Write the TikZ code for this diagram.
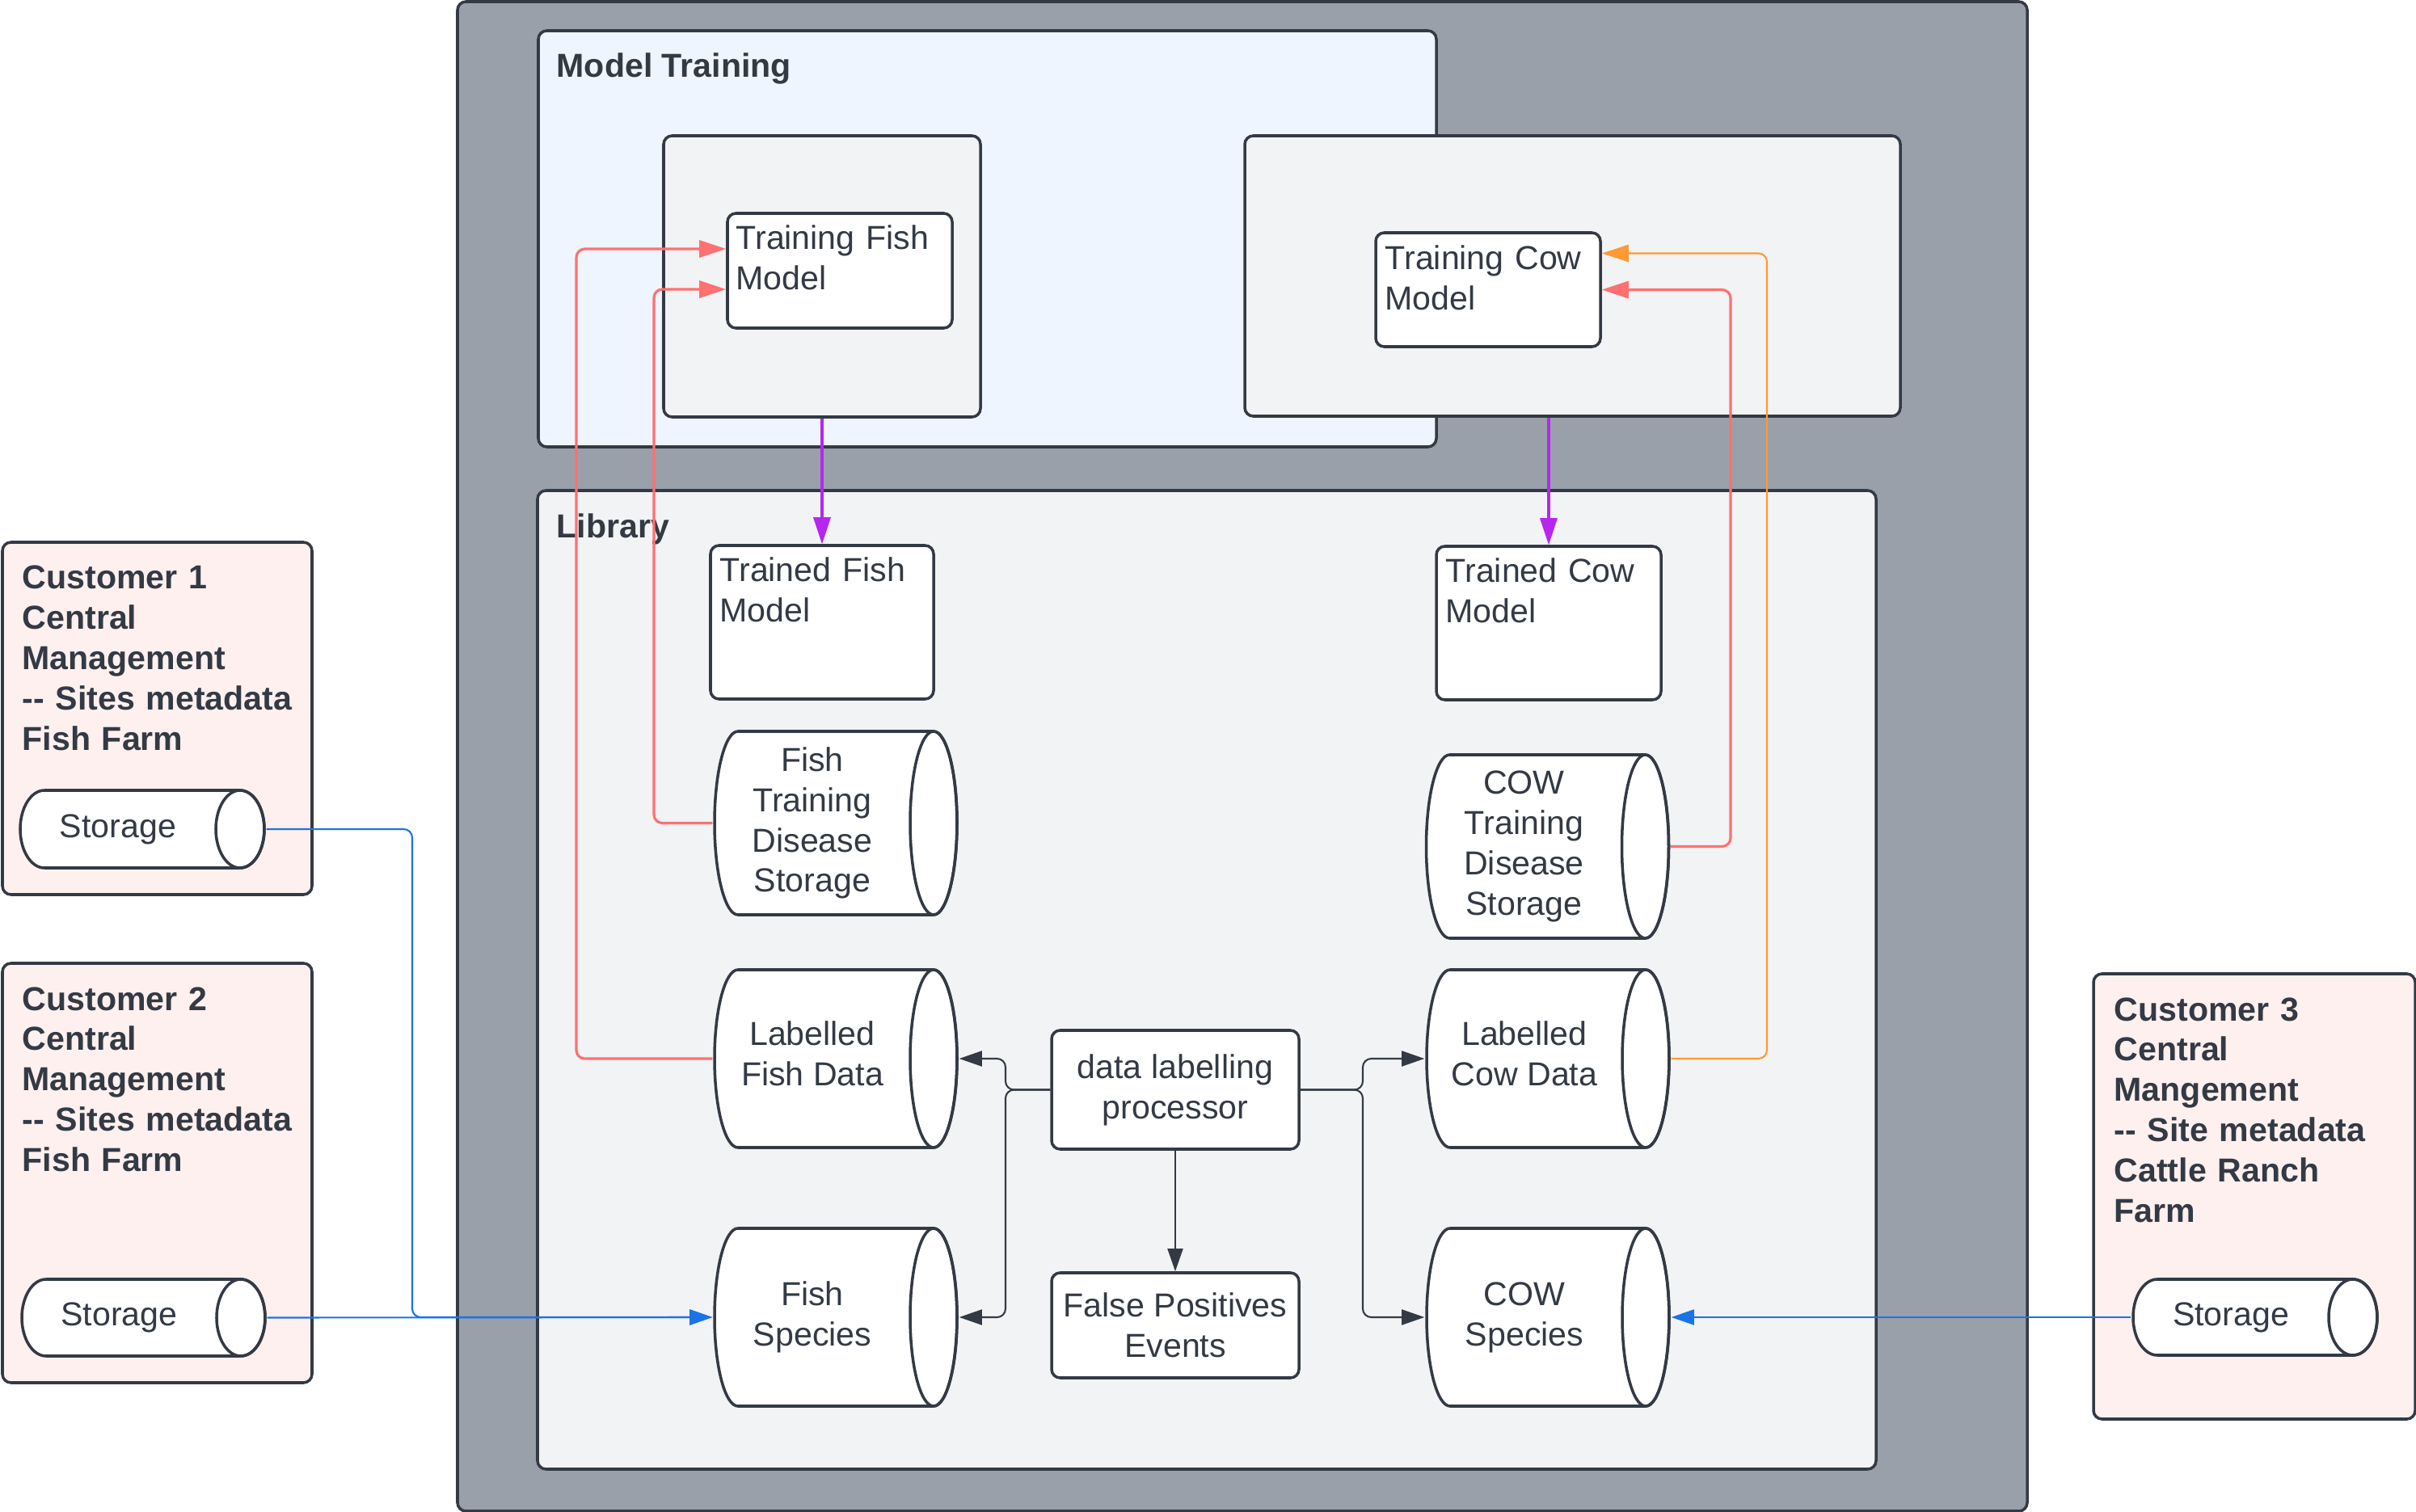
\documentclass[tikz,border=0pt]{standalone}
\usepackage{fontspec}
\setmainfont{Liberation Sans}
\usetikzlibrary{arrows.meta}

\definecolor{ink}{HTML}{333A44}
\definecolor{cPlatform}{HTML}{99A0A9}
\definecolor{cTrain}{HTML}{EEF5FE}
\definecolor{cLib}{HTML}{F2F3F5}
\definecolor{cPink}{HTML}{FEF0EF}
\definecolor{cRed}{HTML}{FF7070}
\definecolor{cOrange}{HTML}{FF9933}
\definecolor{cPurple}{HTML}{B626F0}
\definecolor{cBlue}{HTML}{1A73E8}

\begin{document}
\begin{tikzpicture}[
    font=\fontsize{11.7}{14.2}\selectfont, text=ink,
    panel/.style={draw=ink, line width=1pt, rounded corners=3pt, inner sep=0pt},
    whitebox/.style={panel, fill=white},
    % drum = lying cylinder: width, height, radius of the end cap
    drum/.style n args={3}{rectangle, inner sep=0pt,
      minimum width={#1+0.04cm}, minimum height={#2+0.04cm},
      path picture={
        \path[fill=white, draw=ink, line width=1pt]
          ([shift={(#3+0.02cm,-0.02cm)}]path picture bounding box.north west)
          -- ([shift={(-#3-0.02cm,-0.02cm)}]path picture bounding box.north east)
          arc[start angle=90, end angle=-90, x radius=#3, y radius=0.5*#2]
          -- ([shift={(#3+0.02cm,0.02cm)}]path picture bounding box.south west)
          arc[start angle=270, end angle=90, x radius=#3, y radius=0.5*#2]
          -- cycle;
        \draw[ink, line width=1pt] ([xshift=-#3-0.02cm]path picture bounding box.east)
          ellipse[x radius=#3, y radius=0.5*#2];
      }},
    heading/.style={anchor=base west, inner sep=0pt,
                    font=\fontsize{11.7}{14.2}\selectfont\bfseries},
    boxtext/.style={anchor=base west, inner sep=0pt, text width=#1, align=left},
    feed/.style={draw=#1, line width=0.9pt, rounded corners=3pt,
                 -{Triangle[length=9.4pt,width=6pt]}},
    flow/.style={draw=#1, line width=0.6pt, rounded corners=3pt,
                 -{Triangle[length=8pt,width=5.4pt]}},
    flow/.default=ink
  ]
  \useasboundingbox (0,0) rectangle (29.89,-18.71);

  % containers
  \node[panel, fill=cPlatform, minimum width=19.42cm, minimum height=18.68cm] (platform) at (15.37,-9.36) {};
  \node[panel, fill=cTrain, minimum width=11.11cm, minimum height=5.15cm] (mtrain) at (12.215,-2.955) {};
  \node[panel, fill=cLib, minimum width=16.56cm, minimum height=12.11cm] (library) at (14.93,-12.125) {};
  \node[panel, fill=cLib, minimum width=3.92cm, minimum height=3.48cm] (fishbox) at (10.17,-3.42) {};
  \node[panel, fill=cLib, minimum width=8.11cm, minimum height=3.47cm] (cowbox) at (19.455,-3.415) {};
  \node[heading] (mtrain-title) at (6.88,-0.96) {Model Training};
  \node[heading] (library-title) at (6.88,-6.66) {Library};

  % models
  \node[whitebox, minimum width=2.78cm, minimum height=1.42cm] (tfishm) at (10.39,-3.35) {};
  \node[boxtext=2.6cm] (tfishm-text) at (9.10,-3.09) {Training Fish\\Model};
  \node[whitebox, minimum width=2.78cm, minimum height=1.41cm] (tcowm) at (18.41,-3.585) {};
  \node[boxtext=2.6cm] (tcowm-text) at (17.13,-3.34) {Training Cow\\Model};
  \node[whitebox, minimum width=2.76cm, minimum height=1.90cm] (fishm) at (10.17,-7.70) {};
  \node[boxtext=2.6cm] (fishm-text) at (8.90,-7.20) {Trained Fish\\Model};
  \node[whitebox, minimum width=2.78cm, minimum height=1.90cm] (cowm) at (19.16,-7.71) {};
  \node[boxtext=2.6cm] (cowm-text) at (17.88,-7.21) {Trained Cow\\Model};

  % library stores
  \node[drum={3cm}{2.27cm}{0.29cm}] (ftds) at (10.34,-10.185) {};
  \node[align=center] (ftds-text) at ([xshift=-2.9mm]ftds.center) {Fish\\Training\\Disease\\Storage};
  \node[drum={3cm}{2.27cm}{0.29cm}] (ctds) at (19.145,-10.475) {};
  \node[align=center] (ctds-text) at ([xshift=-2.9mm]ctds.center) {COW\\Training\\Disease\\Storage};
  \node[drum={3cm}{2.2cm}{0.29cm}] (lfd) at (10.34,-13.10) {};
  \node[align=center] (lfd-text) at ([shift={(-2.9mm,0.6mm)}]lfd.center) {Labelled\\Fish Data};
  \node[drum={3cm}{2.2cm}{0.29cm}] (lcd) at (19.15,-13.10) {};
  \node[align=center] (lcd-text) at ([shift={(-2.9mm,0.6mm)}]lcd.center) {Labelled\\Cow Data};
  \node[drum={3cm}{2.2cm}{0.29cm}] (fs) at (10.34,-16.30) {};
  \node[align=center] (fs-text) at ([xshift=-2.9mm]fs.center) {Fish\\Species};
  \node[drum={3cm}{2.2cm}{0.29cm}] (cs) at (19.15,-16.30) {};
  \node[align=center] (cs-text) at ([xshift=-2.9mm]cs.center) {COW\\Species};
  \node[whitebox, align=center, minimum width=3.06cm, minimum height=1.47cm] (proc) at (14.54,-13.485) {data labelling\\processor};
  \node[whitebox, align=center, minimum width=3.06cm, minimum height=1.30cm] (fpe) at (14.54,-16.40) {False Positives\\Events};

  % customers
  \node[panel, fill=cPink, minimum width=3.83cm, minimum height=4.36cm] (cust1) at (1.945,-8.89) {};
  \node[boxtext=3.5cm, font=\fontsize{11.7}{14.2}\selectfont\bfseries] (cust1-text) at (0.27,-7.29)
    {Customer 1\\Central\\Management\\-{}- Sites metadata\\Fish Farm};
  \node[drum={3.02cm}{0.96cm}{0.30cm}] (st1) at (1.76,-10.26) {};
  \node (st1-text) at ([xshift=-3mm]st1.center) {Storage};
  \node[panel, fill=cPink, minimum width=3.83cm, minimum height=5.19cm] (cust2) at (1.945,-14.515) {};
  \node[boxtext=3.5cm, font=\fontsize{11.7}{14.2}\selectfont\bfseries] (cust2-text) at (0.27,-12.50)
    {Customer 2\\Central\\Management\\-{}- Sites metadata\\Fish Farm};
  \node[drum={3.01cm}{0.95cm}{0.30cm}] (st2) at (1.775,-16.305) {};
  \node (st2-text) at ([xshift=-3mm]st2.center) {Storage};
  \node[panel, fill=cPink, minimum width=3.98cm, minimum height=5.51cm] (cust3) at (27.89,-14.805) {};
  \node[boxtext=3.6cm, font=\fontsize{11.7}{14.2}\selectfont\bfseries] (cust3-text) at (26.15,-12.63)
    {Customer 3\\Central\\Mangement\\-{}- Site metadata\\Cattle Ranch\\Farm};
  \node[drum={3.02cm}{0.94cm}{0.30cm}] (st3) at (27.90,-16.30) {};
  \node (st3-text) at ([xshift=-3mm]st3.center) {Storage};

  % training feeds
  \draw[feed=cRed] (lfd.west) -| (7.13,-8) |- ([yshift=2.7mm]tfishm.west);
  \draw[feed=cRed] (ftds.west) -| (8.09,-8) |- ([yshift=-2.3mm]tfishm.west);
  \draw[feed=cRed] (ctds.east) -| (21.41,-8) |- (tcowm.east);
  \draw[feed=cOrange, line width=0.6pt] (lcd.east) -| (21.86,-8) |- ([yshift=4.5mm]tcowm.east);
  \draw[feed=cPurple] (fishbox.south) -- (fishm.north);
  \draw[feed=cPurple] (cowbox.south -| cowm.north) -- (cowm.north);

  % labelling
  \draw[flow] (proc.west) -- (12.44,-13.485) |- (lfd.east);
  \draw[flow] (proc.west) -- (12.44,-13.485) |- (fs.east);
  \draw[flow] (proc.east) -- (16.86,-13.485) |- (lcd.west);
  \draw[flow] (proc.east) -- (16.86,-13.485) |- (cs.west);
  \draw[flow] (proc.south) -- (fpe.north);

  % customer storage
  \draw[flow=cBlue] (st1.east) -| (5.10,-12) |- (fs.west);
  \draw[flow=cBlue] (st2.east) -- (fs.west);
  \draw[flow=cBlue] (st3.west) -- (cs.east);
\end{tikzpicture}
\end{document}
